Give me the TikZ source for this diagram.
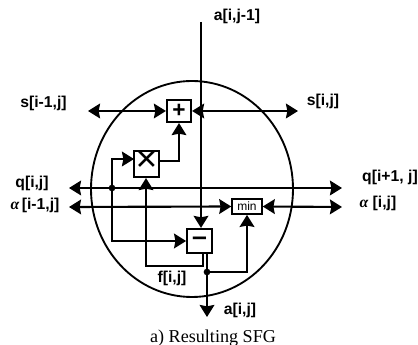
\documentclass[tikz,border=0pt]{standalone}
\usepackage{fontspec}
\setmainfont{Liberation Serif}
\setsansfont{Liberation Sans}
\usetikzlibrary{arrows.meta, positioning}
\tikzset{
   opbox/.style={draw, line width=1.6pt, inner sep=0pt},
   opsym/.style={font=\sffamily\bfseries\fontsize{#1}{#1}\selectfont},
   sig/.style={line width=1.6pt},
   sigend/.style={sig, -{Stealth[length=9pt, width=11pt, inset=1pt]}},
   sigboth/.style={sig, {Stealth[length=9pt, width=11pt, inset=1pt]}-{Stealth[length=9pt, width=11pt, inset=1pt]}},
   sigdot/.style={circle, fill, inner sep=0pt, minimum size=5pt},
   siglabel/.style={font=\sffamily\bfseries\fontsize{11.8}{13}\selectfont, inner sep=0pt},
}
\newcommand{\alphasym}{{\rmfamily\bfseries\itshape α}}
\begin{document}
\begin{tikzpicture}[x=0.75pt, y=-0.75pt]
            \useasboundingbox (0,0) rectangle (418,345);
            % Outer circle
            \draw[line width=1.4pt] (192,189) ellipse [x radius=101, y radius=108];
            % Operator boxes
            \node[opbox, opsym=17, minimum width=18pt, minimum height=16.5pt] (plusbox) at (179,111) {+};
            \node[opbox, font=\sffamily\fontsize{28}{28}\selectfont, minimum width=18.5pt, minimum height=19.5pt, text height=12pt, text depth=0pt] (timesbox) at (146.5,164) {×};
            \node[opbox, opsym=20, minimum width=18.5pt, minimum height=18pt] (minusbox) at (199.5,241) {–};
            \node[opbox, minimum width=22pt, minimum height=11pt, font=\sffamily\fontsize{9}{9}\selectfont] (minbox) at (247,206.5) {min};
            % Free ends
            \coordinate (sleft) at (88,111);
            \coordinate (sright) at (298,111);
            \coordinate (qleft) at (69,188);
            \coordinate (qright) at (342,188);
            \coordinate (alphaleft) at (69,207);
            \coordinate (alpharight) at (342,207);
            \coordinate (atop) at (201,22);
            \coordinate (abottom) at (207,317);
            \coordinate (timesin) at (134,159);
            \coordinate (timesout) at (159,161);
            \coordinate (minusout) at (207,253);
            \coordinate (fstart) at (203,253);
            % Junctions
            \node[sigdot] (qdot) at (112,188) {};
            \node[sigdot] (adot) at (207,272) {};
            % Horizontal signals
            \draw[sigboth] (sleft) -- (plusbox.west);
            \draw[sigboth] (plusbox.east) -- (sright);
            \draw[sigboth] (qleft) -- (qright);
            \draw[sigboth] (alphaleft) -- (minbox.west);
            \draw[sigboth] (minbox.east) -- (alpharight);
            % Vertical signals
            \draw[sigend] (atop) -- (atop |- minusbox.north);
            \draw[sigend] (minusout) -- (abottom);
            % Feedback
            \draw[sigend] (qdot.center) |- (timesin);
            \draw[sigend] (qdot.center) |- (minusbox.west);
            \draw[sigend] (timesout) -| (plusbox.south);
            \draw[sigend] (fstart) |- (146,266) -- (timesbox.south -| 146,0);
            \draw[sigend] (adot.center) -| (minbox.south);
            % Labels
            \node[siglabel] (aup) at (237,16) {a[i,j-1]};
            \node[siglabel] (sin) at (43.5,103) {s[i-1,j]};
            \node[siglabel] (sout) at (323,101) {s[i,j]};
            \node[siglabel] (qin) at (32,183) {q[i,j]};
            \node[siglabel] (qout) at (390,177) {q[i+1, j]};
            \node[siglabel] (alphain) at (35,205) {\alphasym\,[i-1,j]};
            \node[siglabel] (alphaout) at (378,203) {\alphasym\ [i,j]};
            \node[siglabel] (flabel) at (172,278) {f[i,j]};
            \node[siglabel] (adown) at (240,310) {a[i,j]};
            \node[inner sep=0pt, font=\fontsize{13.6}{15}\selectfont] (caption) at (213,338) {a) Resulting SFG};
         \end{tikzpicture}
\end{document}
